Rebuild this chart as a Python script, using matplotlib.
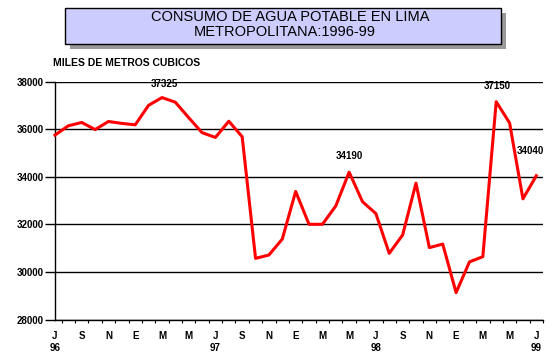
import matplotlib
matplotlib.use("Agg")
import matplotlib.pyplot as plt
from matplotlib.patches import Rectangle
import numpy as np

# Monthly water consumption, Jul 1996 - Jul 1999 (miles de m3)
months = ["J", "A", "S", "O", "N", "D", "E", "F", "M", "A", "M", "J",
          "J", "A", "S", "O", "N", "D", "E", "F", "M", "A", "M", "J",
          "J", "A", "S", "O", "N", "D", "E", "F", "M", "A", "M", "J", "J"]
values = [35750, 36140, 36280, 35980, 36320, 36240, 36180, 37000, 37325,
          37130, 36480, 35850, 35650, 36330, 35680, 30570, 30710, 31380,
          33380, 32000, 32000, 32770, 34190, 32950, 32450, 30780, 31550,
          33730, 31020, 31170, 29130, 30420, 30640, 37150, 36260, 33070,
          34040]
tick_letters = ["J", "S", "N", "E", "M", "M", "J", "S", "N", "E", "M", "M",
                "J", "S", "N", "E", "M", "M", "J"]
year_labels = {0: "96", 12: "97", 24: "98", 36: "99"}
annotated = [8, 22, 33, 36]
yticks = [28000, 30000, 32000, 34000, 36000, 38000]

title1 = "CONSUMO DE AGUA POTABLE EN LIMA"
title2 = "METROPOLITANA:1996-99"
unit_label = "MILES DE METROS CUBICOS"

plt.rcParams['font.family'] = ['Liberation Sans', 'DejaVu Sans']

W, H = 559, 359
fig = plt.figure(figsize=(W / 100, H / 100), dpi=100)
fig.patch.set_facecolor("white")

ax = fig.add_axes([55 / W, (H - 319.5) / H, 488 / W, 238 / H])
x = np.arange(len(values))
ax.plot(x, values, color="#FF0000", lw=2.2, clip_on=False, zorder=5)

ax.set_xlim(0.5, 36.5)
ax.set_ylim(28000, 38000)
ax.set_yticks(yticks)
ax.set_yticklabels([str(v) for v in yticks], fontsize=7, fontweight="bold")
ax.yaxis.grid(True, color="black", lw=1.0)
ax.set_axisbelow(True)

# x labels at data positions, tick marks between months
lab_pos = list(range(0, 37, 2))
labels = []
for p, l in zip(lab_pos, tick_letters):
    labels.append(l + ("\n" + year_labels[p] if p in year_labels else "\n"))
ax.set_xticks(lab_pos)
ax.set_xticklabels(labels, fontsize=7, fontweight="bold", linespacing=1.3)
ax.tick_params(axis="x", which="major", length=0, pad=8)
ax.set_xticks(np.arange(0.5, 37, 1), minor=True)
ax.tick_params(axis="x", which="minor", length=2.5, width=0.8, direction="out")
ax.tick_params(axis="y", length=7, width=1.0, pad=1, direction="out")

for s in ["top", "right"]:
    ax.spines[s].set_visible(False)
for s in ["left", "bottom"]:
    ax.spines[s].set_color("black")
    ax.spines[s].set_linewidth(1.0)

offsets = {8: (2, 6), 22: (0, 8), 33: (1, 8), 36: (-4, 14)}
for i in annotated:
    ax.annotate(str(values[i]), (x[i], values[i]), xytext=offsets[i],
                textcoords="offset points", ha="center", va="bottom",
                fontsize=7, fontweight="bold", annotation_clip=False)

# Title box with shadow
fig.patches.append(Rectangle((70 / W, (H - 49.3) / H), 435.7 / W, 36 / H,
                             transform=fig.transFigure, facecolor="#999999",
                             edgecolor="none", zorder=0))
fig.patches.append(Rectangle((65 / W, (H - 44.3) / H), 435.7 / W, 36 / H,
                             transform=fig.transFigure, facecolor="#CCCCFF",
                             edgecolor="black", lw=1.0, zorder=1))
fig.text(290 / W, (H - 17) / H, title1, ha="center", va="center", fontsize=10.5)
fig.text(284.5 / W, (H - 32) / H, title2, ha="center", va="center", fontsize=10.5)

fig.text(53 / W, (H - 63) / H, unit_label, ha="left", va="center",
         fontsize=7.5, fontweight="bold")

fig.savefig("out.png", dpi=100)
